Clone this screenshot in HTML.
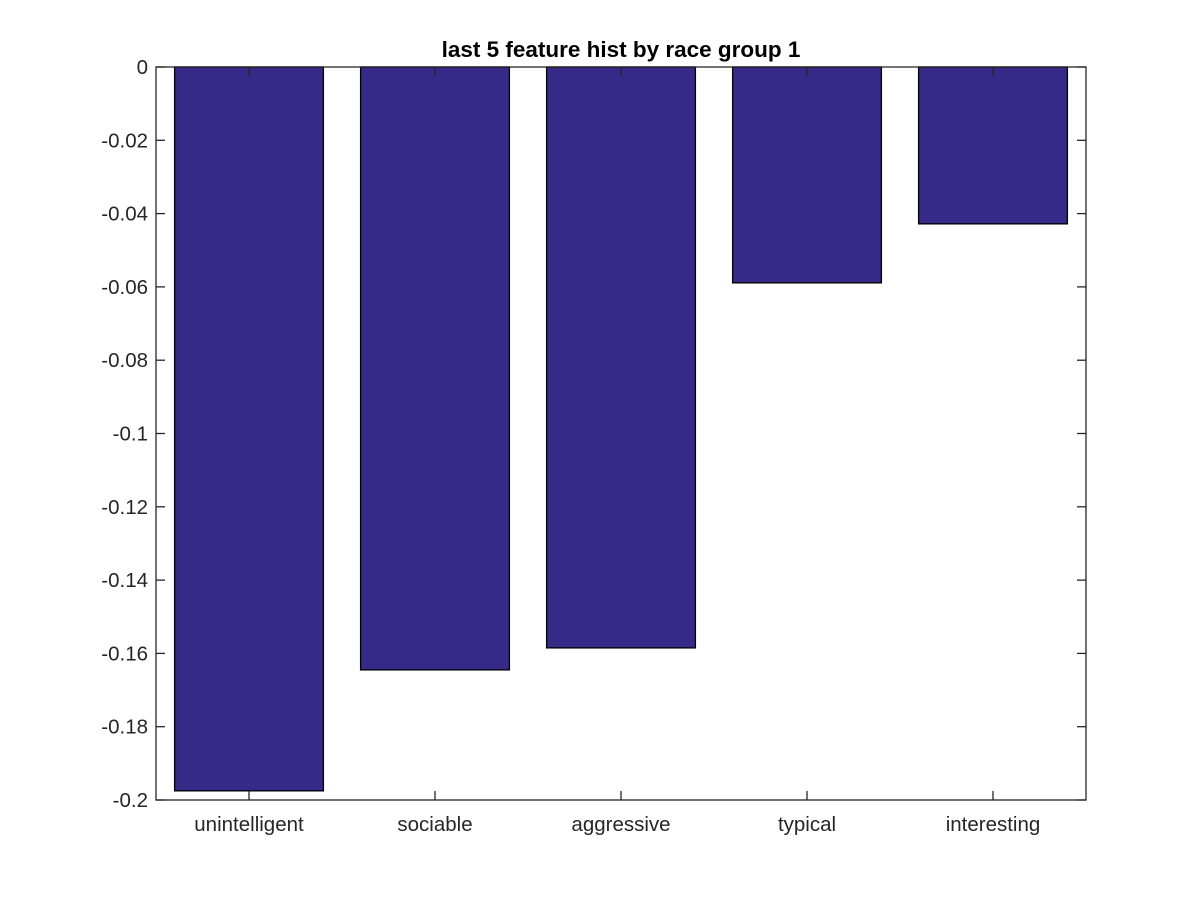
<!DOCTYPE html>
<html><head><meta charset="utf-8"><style>
html,body{margin:0;padding:0;background:#fff;}
svg{display:block;font-family:"Liberation Sans",Arial,sans-serif;}
</style></head><body>
<svg id="chart" width="1200" height="900" viewBox="0 0 1200 900">
<rect width="1200" height="900" fill="#fff"/>
<text x="621" y="57" font-size="22.5" font-weight="bold" text-anchor="middle" fill="#000">last 5 feature hist by race group 1</text>
<g id="bars"></g>
<g id="axes"></g>
</svg>
<script>
const categories = ["unintelligent","sociable","aggressive","typical","interesting"];
const values = [-0.1975,-0.1645,-0.1585,-0.0589,-0.0428];
const yTicks = [0,-0.02,-0.04,-0.06,-0.08,-0.1,-0.12,-0.14,-0.16,-0.18,-0.2];
const yTickLabels = ["0","-0.02","-0.04","-0.06","-0.08","-0.1","-0.12","-0.14","-0.16","-0.18","-0.2"];

const L=156,R=1086,T=67,B=800,yMin=-0.2,yMax=0;
const NS="http://www.w3.org/2000/svg";
const y=v=>T+(yMax-v)/(yMax-yMin)*(B-T);
const step=(R-L)/categories.length;
const xc=i=>L+step*(i+0.5);
const bw=step*0.8;
function mk(tag,attrs,parent){const e=document.createElementNS(NS,tag);for(const k in attrs)e.setAttribute(k,attrs[k]);parent.appendChild(e);return e;}
const bars=document.getElementById('bars'),axes=document.getElementById('axes');
values.forEach((v,i)=>{
  const r=mk('rect',{x:xc(i)-bw/2,y:y(0),width:bw,height:y(v)-y(0),fill:'#352a87',stroke:'#000','stroke-width':1.3},bars);
  
  
});
const box=mk('rect',{x:L,y:T,width:R-L,height:B-T,fill:'none',stroke:'#262626','stroke-width':1.3},axes);


yTicks.forEach((t,i)=>{
  const yy=y(t);
  mk('line',{x1:L,x2:L+9,y1:yy,y2:yy,stroke:'#262626','stroke-width':1.3},axes);
  mk('line',{x1:R,x2:R-9,y1:yy,y2:yy,stroke:'#262626','stroke-width':1.3},axes);
  const tx=mk('text',{x:L-8,y:yy+7,'font-size':20.5,'text-anchor':'end',fill:'#262626'},axes);
  tx.textContent=yTickLabels[i];
  
  
});
categories.forEach((c,i)=>{
  const xx=xc(i);
  mk('line',{x1:xx,x2:xx,y1:B,y2:B-9,stroke:'#262626','stroke-width':1.3},axes);
  mk('line',{x1:xx,x2:xx,y1:T,y2:T+9,stroke:'#262626','stroke-width':1.3},axes);
  const tx=mk('text',{x:xx,y:B+31,'font-size':20.5,'text-anchor':'middle',fill:'#262626'},axes);
  tx.textContent=c;
  
  
});
</script>
</body></html>
